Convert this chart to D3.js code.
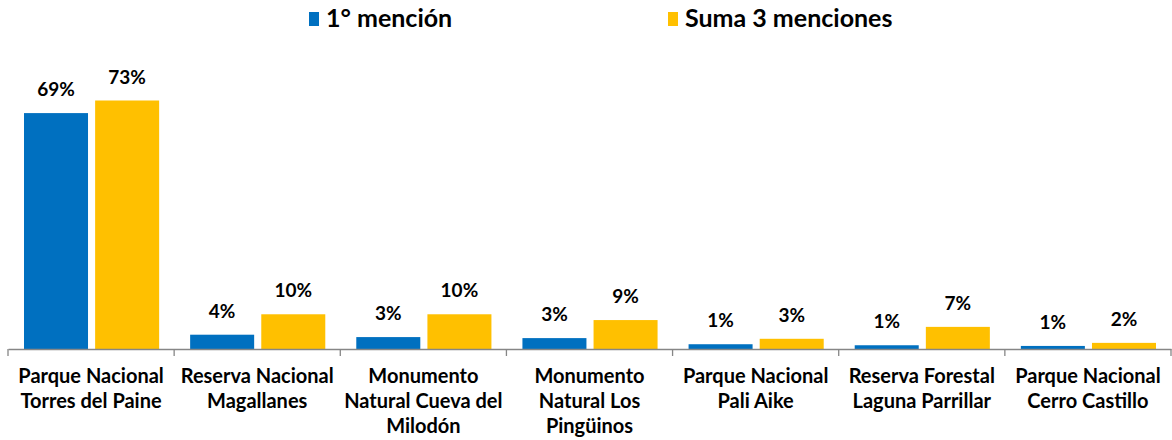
<!DOCTYPE html>
<html><head><meta charset="utf-8">
<script src="https://cdn.jsdelivr.net/npm/d3@7"></script>
<style>body{margin:0;background:#fff}svg{display:block;font-family:Lato,"Open Sans",sans-serif}</style>
</head><body><svg id="c" width="1172" height="440"></svg>
<script>
const categories = ["Parque Nacional\nTorres del Paine","Reserva Nacional\nMagallanes","Monumento\nNatural Cueva del\nMilodón","Monumento\nNatural Los\nPingüinos","Parque Nacional\nPali Aike","Reserva Forestal\nLaguna Parrillar","Parque Nacional\nCerro Castillo"];
const seriesNames = ["1° mención","Suma 3 menciones"];
const primera = [69.3, 4.2, 3.5, 3.2, 1.4, 1.1, 0.9];
const suma3 = [73.0, 10.2, 10.2, 8.5, 3.0, 6.5, 1.8];
const primeraLabels = ["69%","4%","3%","3%","1%","1%","1%"];
const suma3Labels = ["73%","10%","10%","9%","3%","7%","2%"];
const colors = ["#0070C0","#FFC000"];

const svg = d3.select("#c");
const x0 = d3.scaleBand().domain(categories).range([8,1171]).paddingInner(0).paddingOuter(0);
const x1 = d3.scaleBand().domain([0,1]).range([16, x0.bandwidth()-15]).paddingInner(0.1);
const y = d3.scaleLinear().domain([0,73]).range([349,100.5]);

const data = categories.map((c,i)=>({c, vals:[primera[i], suma3[i]], labs:[primeraLabels[i], suma3Labels[i]]}));
const g = svg.append("g").selectAll("g").data(data).join("g").attr("transform",d=>`translate(${x0(d.c)},0)`);
g.selectAll("rect").data(d=>d.vals.map((v,k)=>({v,k}))).join("rect")
  .attr("x",d=>x1(d.k)).attr("width",x1.bandwidth())
  .attr("y",d=>y(d.v)).attr("height",d=>349-y(d.v)).attr("fill",d=>colors[d.k]);
g.selectAll("text.lab").data(d=>d.vals.map((v,k)=>({v,k,l:d.labs[k]}))).join("text").attr("class","lab")
  .attr("x",d=>x1(d.k)+x1.bandwidth()/2).attr("y",d=>y(d.v)-17)
  .attr("text-anchor","middle").attr("font-size",19).attr("font-weight","bold").attr("fill","#000").text(d=>d.l);

// axis
const axis = d3.axisBottom(x0).tickSize(0).tickFormat("");
const ax = svg.append("g").attr("transform","translate(0,349)").call(axis);
ax.select(".domain").attr("stroke","#868686").attr("stroke-width",1.3);
const bounds = categories.map(c=>x0(c)).concat([x0.range()[1]]);
svg.append("g").selectAll("line").data(bounds).join("line")
  .attr("x1",d=>d).attr("x2",d=>d).attr("y1",349).attr("y2",356).attr("stroke","#868686").attr("stroke-width",1.3);

// category labels
const cl = svg.append("g").selectAll("text").data(categories).join("text")
  .attr("x",d=>x0(d)+x0.bandwidth()/2).attr("y",383).attr("text-anchor","middle")
  .attr("font-size",20).attr("font-weight","bold").attr("fill","#000");
cl.each(function(d){
  const t=d3.select(this);
  d.split("\n").forEach((s,i)=>t.append("tspan").attr("x",x0(d)+x0.bandwidth()/2).attr("y",383+i*25).text(s));
});

// legend
const legX=[309,668];
const lg = svg.append("g").selectAll("g").data(seriesNames).join("g").attr("transform",(d,i)=>`translate(${legX[i]},0)`);
lg.append("rect").attr("x",0).attr("y",12).attr("width",10).attr("height",14).attr("fill",(d,i)=>colors[i]);
lg.append("text").attr("x",17).attr("y",27).attr("font-size",25).attr("font-weight","bold").attr("fill","#000").text(d=>d);
</script></body></html>
